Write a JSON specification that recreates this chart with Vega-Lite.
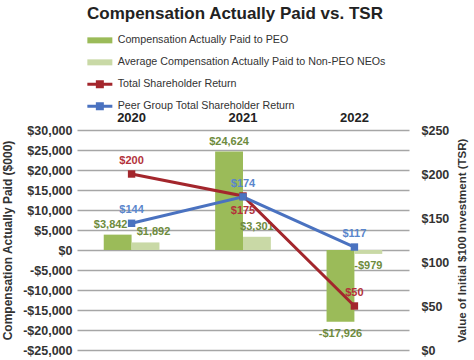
{
  "$schema": "https://vega.github.io/schema/vega-lite/v6.json",
  "width": 332,
  "height": 220,
  "padding": {"left": 1, "top": 5, "right": 2, "bottom": 2},
  "background": "white",
  "title": {
    "text": "Compensation Actually Paid vs. TSR",
    "fontSize": 17,
    "fontWeight": "bold",
    "font": "Liberation Sans",
    "color": "#222222",
    "anchor": "middle",
    "frame": "bounds",
    "offset": 12
  },
  "config": {
    "view": {"stroke": null},
    "font": "Liberation Sans",
    "axis": {"labelFont": "Liberation Sans", "titleFont": "Liberation Sans", "labelOverlap": false},
    "axisY": {"labelOverlap": false},
    "axisQuantitative": {"labelOverlap": false}
  },
  "datasets": {
    "comp": [
      {"year": "2020", "series": "Compensation Actually Paid to PEO", "value": 3842},
      {"year": "2020", "series": "Average Compensation Actually Paid to Non-PEO NEOs", "value": 1892},
      {"year": "2021", "series": "Compensation Actually Paid to PEO", "value": 24624},
      {"year": "2021", "series": "Average Compensation Actually Paid to Non-PEO NEOs", "value": 3301},
      {"year": "2022", "series": "Compensation Actually Paid to PEO", "value": -17926},
      {"year": "2022", "series": "Average Compensation Actually Paid to Non-PEO NEOs", "value": -979}
    ],
    "tsr": [
      {"year": "2020", "series": "Total Shareholder Return", "tsr": 200},
      {"year": "2021", "series": "Total Shareholder Return", "tsr": 175},
      {"year": "2022", "series": "Total Shareholder Return", "tsr": 50},
      {"year": "2020", "series": "Peer Group Total Shareholder Return", "tsr": 144},
      {"year": "2021", "series": "Peer Group Total Shareholder Return", "tsr": 174},
      {"year": "2022", "series": "Peer Group Total Shareholder Return", "tsr": 117}
    ]
  },
  "encoding": {
    "x": {
      "field": "year",
      "type": "nominal",
      "scale": {"paddingInner": 0.5, "paddingOuter": 0.24},
      "axis": {
        "orient": "top",
        "title": null,
        "labelAngle": 0,
        "domain": false,
        "ticks": false,
        "labelFontSize": 13,
        "labelFontWeight": "bold",
        "labelColor": "#222222",
        "labelPadding": 6
      }
    }
  },
  "layer": [
    {
      "data": {"name": "comp"},
      "encoding": {
        "y": {
          "field": "value",
          "type": "quantitative",
          "scale": {"domain": [-25000, 30000], "nice": false, "zero": false},
          "axis": {
            "orient": "left",
            "values": [-25000, -20000, -15000, -10000, -5000, 0, 5000, 10000, 15000, 20000, 25000, 30000],
            "labelExpr": "datum.value < 0 ? '-$' + format(-datum.value, ',') : '$' + format(datum.value, ',')",
            "labelOverlap": false,
            "labelSeparation": 0,
            "grid": true,
            "gridColor": "#a6a6a6",
            "gridWidth": 1.6,
            "domain": false,
            "ticks": false,
            "labelFontSize": 12.5,
            "labelFontWeight": "bold",
            "labelColor": "#333333",
            "labelPadding": 5,
            "title": "Compensation Actually Paid ($000)",
            "titleFontSize": 12,
            "titleFontWeight": "bold",
            "titleColor": "#333333",
            "titlePadding": 8
          }
        },
        "xOffset": {"field": "series", "type": "nominal", "sort": ["Compensation Actually Paid to PEO", "Average Compensation Actually Paid to Non-PEO NEOs"]}
      },
      "layer": [
        {
          "mark": {"type": "bar"},
          "encoding": {
            "color": {
              "field": "series",
              "type": "nominal",
              "scale": {
                "domain": ["Compensation Actually Paid to PEO", "Average Compensation Actually Paid to Non-PEO NEOs", "Total Shareholder Return", "Peer Group Total Shareholder Return"],
                "range": ["#9bbb59", "#c9d9a6", "#a3262c", "#4a72c0"]
              },
              "legend": {
                "orient": "none",
                "legendX": 17.5,
                "legendY": -95,
                "direction": "vertical",
                "title": null,
                "symbolSize": 100,
                "labelFontSize": 10.7,
                "labelFont": "Liberation Sans",
                "labelColor": "#333333",
                "labelOffset": 12.5,
                "rowPadding": 10,
                "labelLimit": 400,
                "encode": {
                  "symbols": {
                    "update": {
                      "shape": {"signal": "indexof(datum.value, 'Return') >= 0 ? 'M-2.5,-0.3H2.5V0.3H-2.5Z M-0.8,-0.8H0.8V0.8H-0.8Z' : 'M-2.5,-0.6H2.5V0.6H-2.5Z'"},
                      "fill": {"scale": "color", "field": "value"},
                      "strokeWidth": {"value": 0},
                      "opacity": {"value": 1}
                    }
                  }
                }
              }
            }
          }
        },
        {
          "transform": [{"filter": "datum.value >= 0 && datum.year != '2020'"}],
          "mark": {"type": "text", "baseline": "middle", "dy": -10, "fontSize": 11, "fontWeight": "bold", "color": "#6e8b3d"},
          "encoding": {
            "text": {"field": "value", "type": "quantitative", "format": "$,.0f"}
          }
        },
        {
          "transform": [{"filter": "datum.year == '2020' && datum.series == 'Compensation Actually Paid to PEO'"}],
          "mark": {"type": "text", "baseline": "middle", "dy": -10, "dx": -7, "fontSize": 11, "fontWeight": "bold", "color": "#6e8b3d"},
          "encoding": {
            "text": {"field": "value", "type": "quantitative", "format": "$,.0f"}
          }
        },
        {
          "transform": [{"filter": "datum.year == '2020' && datum.series != 'Compensation Actually Paid to PEO'"}],
          "mark": {"type": "text", "baseline": "middle", "dy": -10, "dx": 8, "fontSize": 11, "fontWeight": "bold", "color": "#6e8b3d"},
          "encoding": {
            "text": {"field": "value", "type": "quantitative", "format": "$,.0f"}
          }
        },
        {
          "transform": [{"filter": "datum.value < 0"}, {"calculate": "'-$' + format(-datum.value, ',')", "as": "lbl"}],
          "mark": {"type": "text", "baseline": "middle", "dy": 12, "fontSize": 11, "fontWeight": "bold", "color": "#6e8b3d"},
          "encoding": {
            "text": {"field": "lbl", "type": "nominal"}
          }
        }
      ]
    },
    {
      "data": {"name": "tsr"},
      "encoding": {
        "y": {
          "field": "tsr",
          "type": "quantitative",
          "scale": {"domain": [0, 250], "nice": false},
          "axis": {
            "orient": "right",
            "values": [0, 50, 100, 150, 200, 250],
            "labelExpr": "'$' + datum.value",
            "labelOverlap": false,
            "grid": false,
            "domain": false,
            "ticks": false,
            "labelFontSize": 12.5,
            "labelFontWeight": "bold",
            "labelColor": "#333333",
            "labelPadding": 12,
            "title": "Value of Initial $100 Investment (TSR)",
            "titleAngle": -90,
            "titleBaseline": "top",
            "titleFontSize": 11.5,
            "titleFontWeight": "bold",
            "titleColor": "#333333",
            "titlePadding": 8
          }
        }
      },
      "layer": [
        {
          "mark": {"type": "line", "strokeWidth": 3},
          "encoding": {
            "color": {"field": "series", "type": "nominal"}
          }
        },
        {
          "mark": {"type": "point", "shape": "square", "filled": true, "size": 55, "opacity": 1},
          "encoding": {
            "color": {"field": "series", "type": "nominal"}
          }
        },
        {
          "transform": [{"filter": "!(datum.series == 'Total Shareholder Return' && datum.year == '2021')"}],
          "mark": {"type": "text", "baseline": "middle", "dy": -13, "fontSize": 11, "fontWeight": "bold"},
          "encoding": {
            "text": {"field": "tsr", "type": "quantitative", "format": "$.0f"},
            "color": {"condition": {"test": "datum.series == 'Total Shareholder Return'", "value": "#b3323a"}, "value": "#5a86cc"}
          }
        },
        {
          "transform": [{"filter": "datum.series == 'Total Shareholder Return' && datum.year == '2021'"}],
          "mark": {"type": "text", "baseline": "middle", "dy": 15, "fontSize": 11, "fontWeight": "bold", "color": "#b3323a"},
          "encoding": {
            "text": {"field": "tsr", "type": "quantitative", "format": "$.0f"}
          }
        }
      ]
    }
  ],
  "resolve": {"scale": {"y": "independent"}}
}
